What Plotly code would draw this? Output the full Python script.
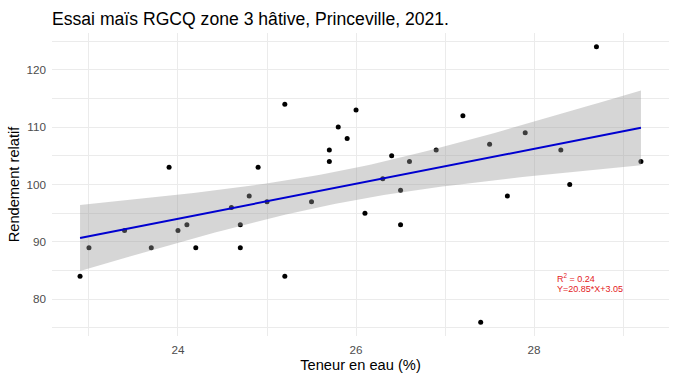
import numpy as np
import plotly.graph_objects as go

# Data
teneur_eau = [22.9, 23.0, 23.4, 23.7, 23.9, 24.0, 24.1, 24.2, 24.6, 24.7,
              24.7, 24.8, 24.9, 25.0, 25.2, 25.2, 25.5, 25.7, 25.7, 25.8,
              25.9, 26.0, 26.1, 26.3, 26.4, 26.5, 26.5, 26.6, 26.9, 27.2,
              27.4, 27.5, 27.7, 27.9, 28.3, 28.4, 28.7, 29.2]
rendement = [84, 89, 92, 89, 103, 92, 93, 89, 96, 93,
             89, 98, 103, 97, 114, 84, 97, 106, 104, 110,
             108, 113, 95, 101, 105, 99, 93, 104, 106, 112,
             76, 107, 98, 109, 106, 100, 124, 104]

title_text = "Essai maïs RGCQ zone 3 hâtive, Princeville, 2021."
x_title = "Teneur en eau (%)"
y_title = "Rendement relatif"
annot_lines = ["R<sup>2</sup> = 0.24", "Y=20.85*X+3.05"]
x_ticks = [24, 26, 28]
y_ticks = [80, 90, 100, 110, 120]

# Linear fit with 95% confidence band (as geom_smooth(method="lm"))
x = np.array(teneur_eau, dtype=float)
y = np.array(rendement, dtype=float)
n = len(x)
slope, intercept = np.polyfit(x, y, 1)
xs = np.linspace(x.min(), x.max(), 80)
yhat = intercept + slope * xs
resid = y - (intercept + slope * x)
s = np.sqrt(np.sum(resid ** 2) / (n - 2))
sxx = np.sum((x - x.mean()) ** 2)
se = s * np.sqrt(1.0 / n + (xs - x.mean()) ** 2 / sxx)
T975 = 2.028
upper = yhat + T975 * se
lower = yhat - T975 * se

FONT = "Liberation Sans, Arial, sans-serif"

fig = go.Figure()
fig.add_trace(go.Scatter(
    x=teneur_eau, y=rendement, mode="markers",
    marker=dict(color="black", size=5, line=dict(width=0)),
    showlegend=False, hoverinfo="x+y"))
fig.add_trace(go.Scatter(
    x=np.concatenate([xs, xs[::-1]]), y=np.concatenate([upper, lower[::-1]]),
    mode="lines", fill="toself", fillcolor="rgba(153,153,153,0.4)",
    line=dict(width=0), showlegend=False, hoverinfo="skip"))
fig.add_trace(go.Scatter(
    x=xs, y=yhat, mode="lines", line=dict(color="#0000d0", width=2),
    showlegend=False, hoverinfo="skip"))

xmin, xmax = x.min(), x.max()
ymin, ymax = y.min(), y.max()
xpad = (xmax - xmin) * 0.05
ypad = (ymax - ymin) * 0.05

grid = "#ebebeb"
fig.update_layout(
    width=675, height=380,
    margin=dict(l=52, r=6, t=33, b=44, pad=0, autoexpand=False),
    paper_bgcolor="white", plot_bgcolor="white",
    font=dict(family=FONT, color="#4d4d4d"),
    title=dict(text=title_text, x=52 / 675, xref="container", xanchor="left",
               y=1 - 19 / 380, yref="container", yanchor="middle",
               automargin=False,
               font=dict(family=FONT, size=17.6, color="black")),
    xaxis=dict(range=[xmin - xpad, xmax + xpad], tickvals=x_ticks,
               automargin=False,
               showgrid=True, gridcolor=grid, gridwidth=1.07,
               minor=dict(tickvals=[23, 25, 27, 29], showgrid=True,
                          gridcolor=grid, gridwidth=0.8),
               zeroline=False, showline=False, ticks="",
               tickfont=dict(size=11.7, color="#4d4d4d"),
               ticklabelstandoff=5,
               title=dict(text=x_title, standoff=5,
                          font=dict(size=14.67, color="black"))),
    yaxis=dict(range=[ymin - ypad, ymax + ypad], tickvals=y_ticks,
               automargin=False,
               showgrid=True, gridcolor=grid, gridwidth=1.07,
               minor=dict(tickvals=[75, 85, 95, 105, 115, 125], showgrid=True,
                          gridcolor=grid, gridwidth=0.8),
               zeroline=False, showline=False, ticks="",
               tickfont=dict(size=11.7, color="#4d4d4d"),
               ticklabelstandoff=5,
               title=dict(text=y_title, standoff=3,
                          font=dict(size=14.67, color="black"))),
)

fig.add_annotation(x=28.244, y=83.69, xref="x", yref="y", text=annot_lines[0],
                   showarrow=False, xanchor="left", yanchor="middle",
                   borderpad=0, font=dict(family=FONT, size=9, color="#e31a1c"))
fig.add_annotation(x=28.244, y=81.85, xref="x", yref="y", text=annot_lines[1],
                   showarrow=False, xanchor="left", yanchor="middle",
                   borderpad=0, font=dict(family=FONT, size=9, color="#e31a1c"))

fig.write_html("out.html",
               config={"displayModeBar": False},
               post_script="document.body.style.margin='0';"
                           "document.body.style.overflow='hidden';")
